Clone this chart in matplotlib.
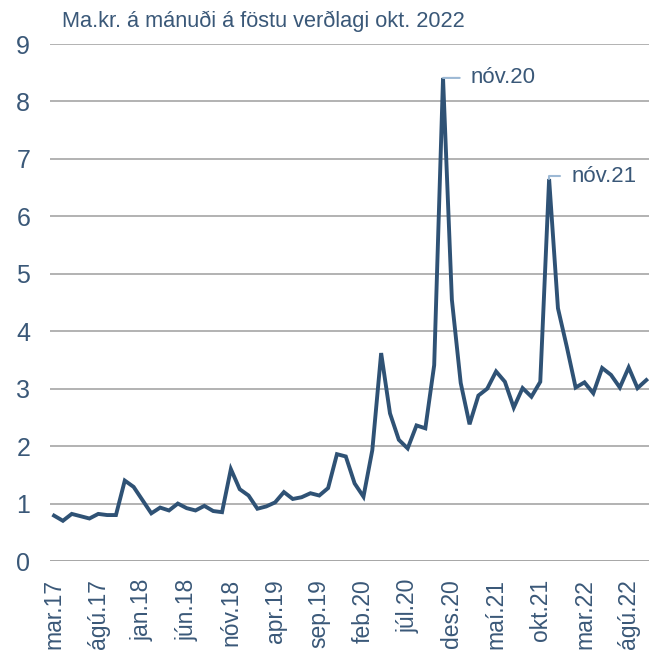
import matplotlib
matplotlib.use("Agg")
import matplotlib.pyplot as plt

plt.rcParams['font.family'] = ['Liberation Sans', 'DejaVu Sans']

# monthly values, mar.17 - okt.22
months = ['jan', 'feb', 'mar', 'apr', 'maí', 'jún', 'júl', 'ágú', 'sep', 'okt', 'nóv', 'des']
values = [
    0.79, 0.70, 0.82, 0.78, 0.74, 0.82, 0.80, 0.80, 1.40, 1.29,   # mar.17 - des.17
    1.06, 0.83, 0.93, 0.88, 1.00, 0.92, 0.88, 0.96, 0.87, 0.85,   # jan.18 - okt.18
    1.60, 1.25, 1.14, 0.91, 0.95, 1.02, 1.20, 1.08, 1.11, 1.18,   # nóv.18 - ágú.19
    1.14, 1.27, 1.86, 1.82, 1.35, 1.12, 1.93, 3.62, 2.57, 2.11,   # sep.19 - jún.20
    1.96, 2.36, 2.31, 3.41, 8.41, 4.55, 3.10, 2.38, 2.88, 3.00,   # júl.20 - apr.21
    3.30, 3.12, 2.67, 3.01, 2.86, 3.12, 6.65, 4.40, 3.73, 3.02,   # maí.21 - feb.22
    3.11, 2.92, 3.36, 3.24, 3.02, 3.37, 3.01, 3.15,               # mar.22 - okt.22
]
labels = []
for i in range(len(values)):
    m = (2 + i) % 12
    y = 17 + (2 + i) // 12
    labels.append('%s.%d' % (months[m], y))

peaks = [(44, 'nóv.20'), (56, 'nóv.21')]

line_col = '#2F5275'
text_col = '#3A5878'

fig = plt.figure(figsize=(6.49, 6.59), dpi=100)
ax = fig.add_axes([0.0765, 0.1487, 0.9235, 0.7845])

x = list(range(len(values)))
ax.plot(x, values, color=line_col, lw=2.8, solid_joinstyle='miter')

ax.set_ylim(0, 9)
ax.set_xlim(-0.5, 67.3)
ax.set_yticks(range(10))
ax.yaxis.grid(True, color='#A6A6A6', lw=1.2)
ax.set_axisbelow(True)
for s in ax.spines.values():
    s.set_visible(False)
ax.axhline(0, color='#A6A6A6', lw=1.2, zorder=0)

ticks = x[::5]
ax.set_xticks(ticks)
ax.set_xticklabels([labels[i] for i in ticks], rotation=90, fontsize=16.5, color=text_col)
ax.tick_params(axis='x', length=0, pad=13)
ax.tick_params(axis='y', length=0, pad=14, labelsize=18, labelcolor=text_col)

# peak labels
ax.annotate(peaks[0][1], xy=(peaks[0][0], values[peaks[0][0]]), xytext=(20, 0),
            textcoords='offset points', va='center', ha='left', fontsize=16, color=text_col,
            arrowprops=dict(arrowstyle='-', color='#9DB9D5', lw=1.5, shrinkA=6, shrinkB=0))
ax.annotate(peaks[1][1], xy=(peaks[1][0], values[peaks[1][0]]), xytext=(16, 2),
            textcoords='offset points', va='center', ha='left', fontsize=16, color=text_col,
            arrowprops=dict(arrowstyle='-', color='#9DB9D5', lw=1.5, shrinkA=6, shrinkB=0,
                            connectionstyle='angle,angleA=0,angleB=90,rad=0'))

fig.text(0.096, 0.968, 'Ma.kr. á mánuði á föstu verðlagi okt. 2022', fontsize=15.7,
         color=text_col, va='center', ha='left')

fig.savefig('out.png', dpi=100)
